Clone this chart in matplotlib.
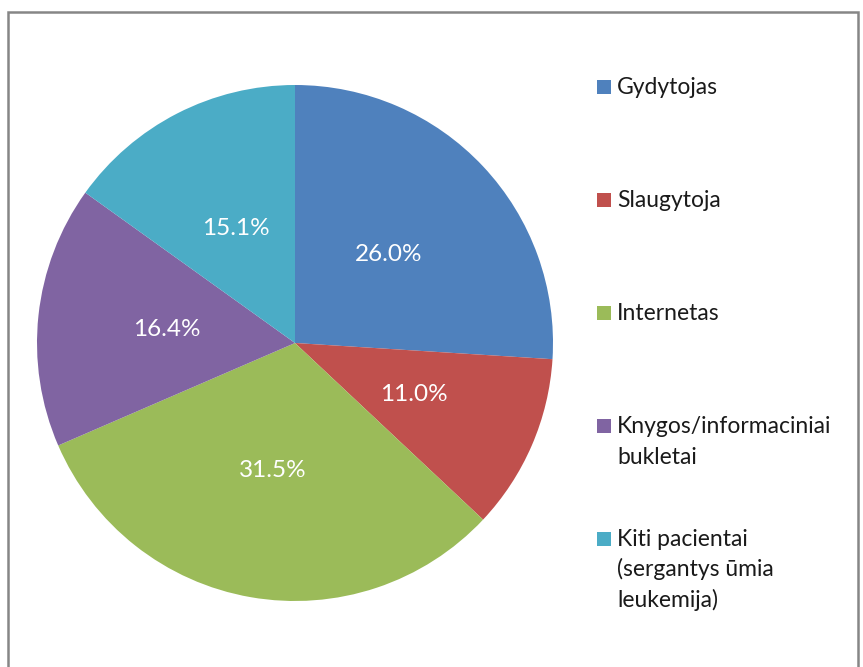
import matplotlib
matplotlib.use('Agg')
import matplotlib.pyplot as plt
from matplotlib.patches import Rectangle

plt.rcParams['font.family'] = ['Lato', 'DejaVu Sans']

# data
categories = ['Gydytojas', 'Slaugytoja', 'Internetas',
              'Knygos/informaciniai\nbukletai',
              'Kiti pacientai\n(sergantys ūmia\nleukemija)']
shares = [26.0, 11.0, 31.5, 16.4, 15.1]
colors = ['#4F81BD', '#C0504D', '#9BBB59', '#8064A2', '#4BACC6']

W, H = 863, 667
fig = plt.figure(figsize=(W / 100, H / 100), dpi=100)

# chart frame (bottom edge falls outside the image)
fig.add_artist(Rectangle((8 / W, -0.05), (858 - 8) / W, 1.05 - 12 / H,
                         transform=fig.transFigure, fill=False,
                         edgecolor='#868686', linewidth=1.8))

cx, cy, r = 295, 343, 258
ax = fig.add_axes([(cx - r) / W, (H - cy - r) / H, 2 * r / W, 2 * r / H])
wedges, _, autotexts = ax.pie(shares, colors=colors, startangle=90,
                              counterclock=False, autopct='%.1f%%',
                              pctdistance=0.5, radius=1.0,
                              wedgeprops=dict(linewidth=0),
                              textprops=dict(color='white', fontsize=17.5))
ax.set_xlim(-1, 1)
ax.set_ylim(-1, 1)
ax.set_aspect('equal')

# legend drawn by hand: Excel spaces entries by their first line
top, step, line_h = 87, 113, 30.5
for i, (lab, col) in enumerate(zip(categories, colors)):
    y = top + i * step
    fig.add_artist(Rectangle((597 / W, 1 - (y + 7) / H), 14 / W, 14 / H,
                             transform=fig.transFigure, facecolor=col,
                             edgecolor='none'))
    for j, line in enumerate(lab.split('\n')):
        fig.text(617 / W, 1 - (y + 7 + j * line_h) / H, line,
                 ha='left', va='baseline', fontsize=16.5, color='#1a1a1a')

fig.savefig('out.png', dpi=100)
